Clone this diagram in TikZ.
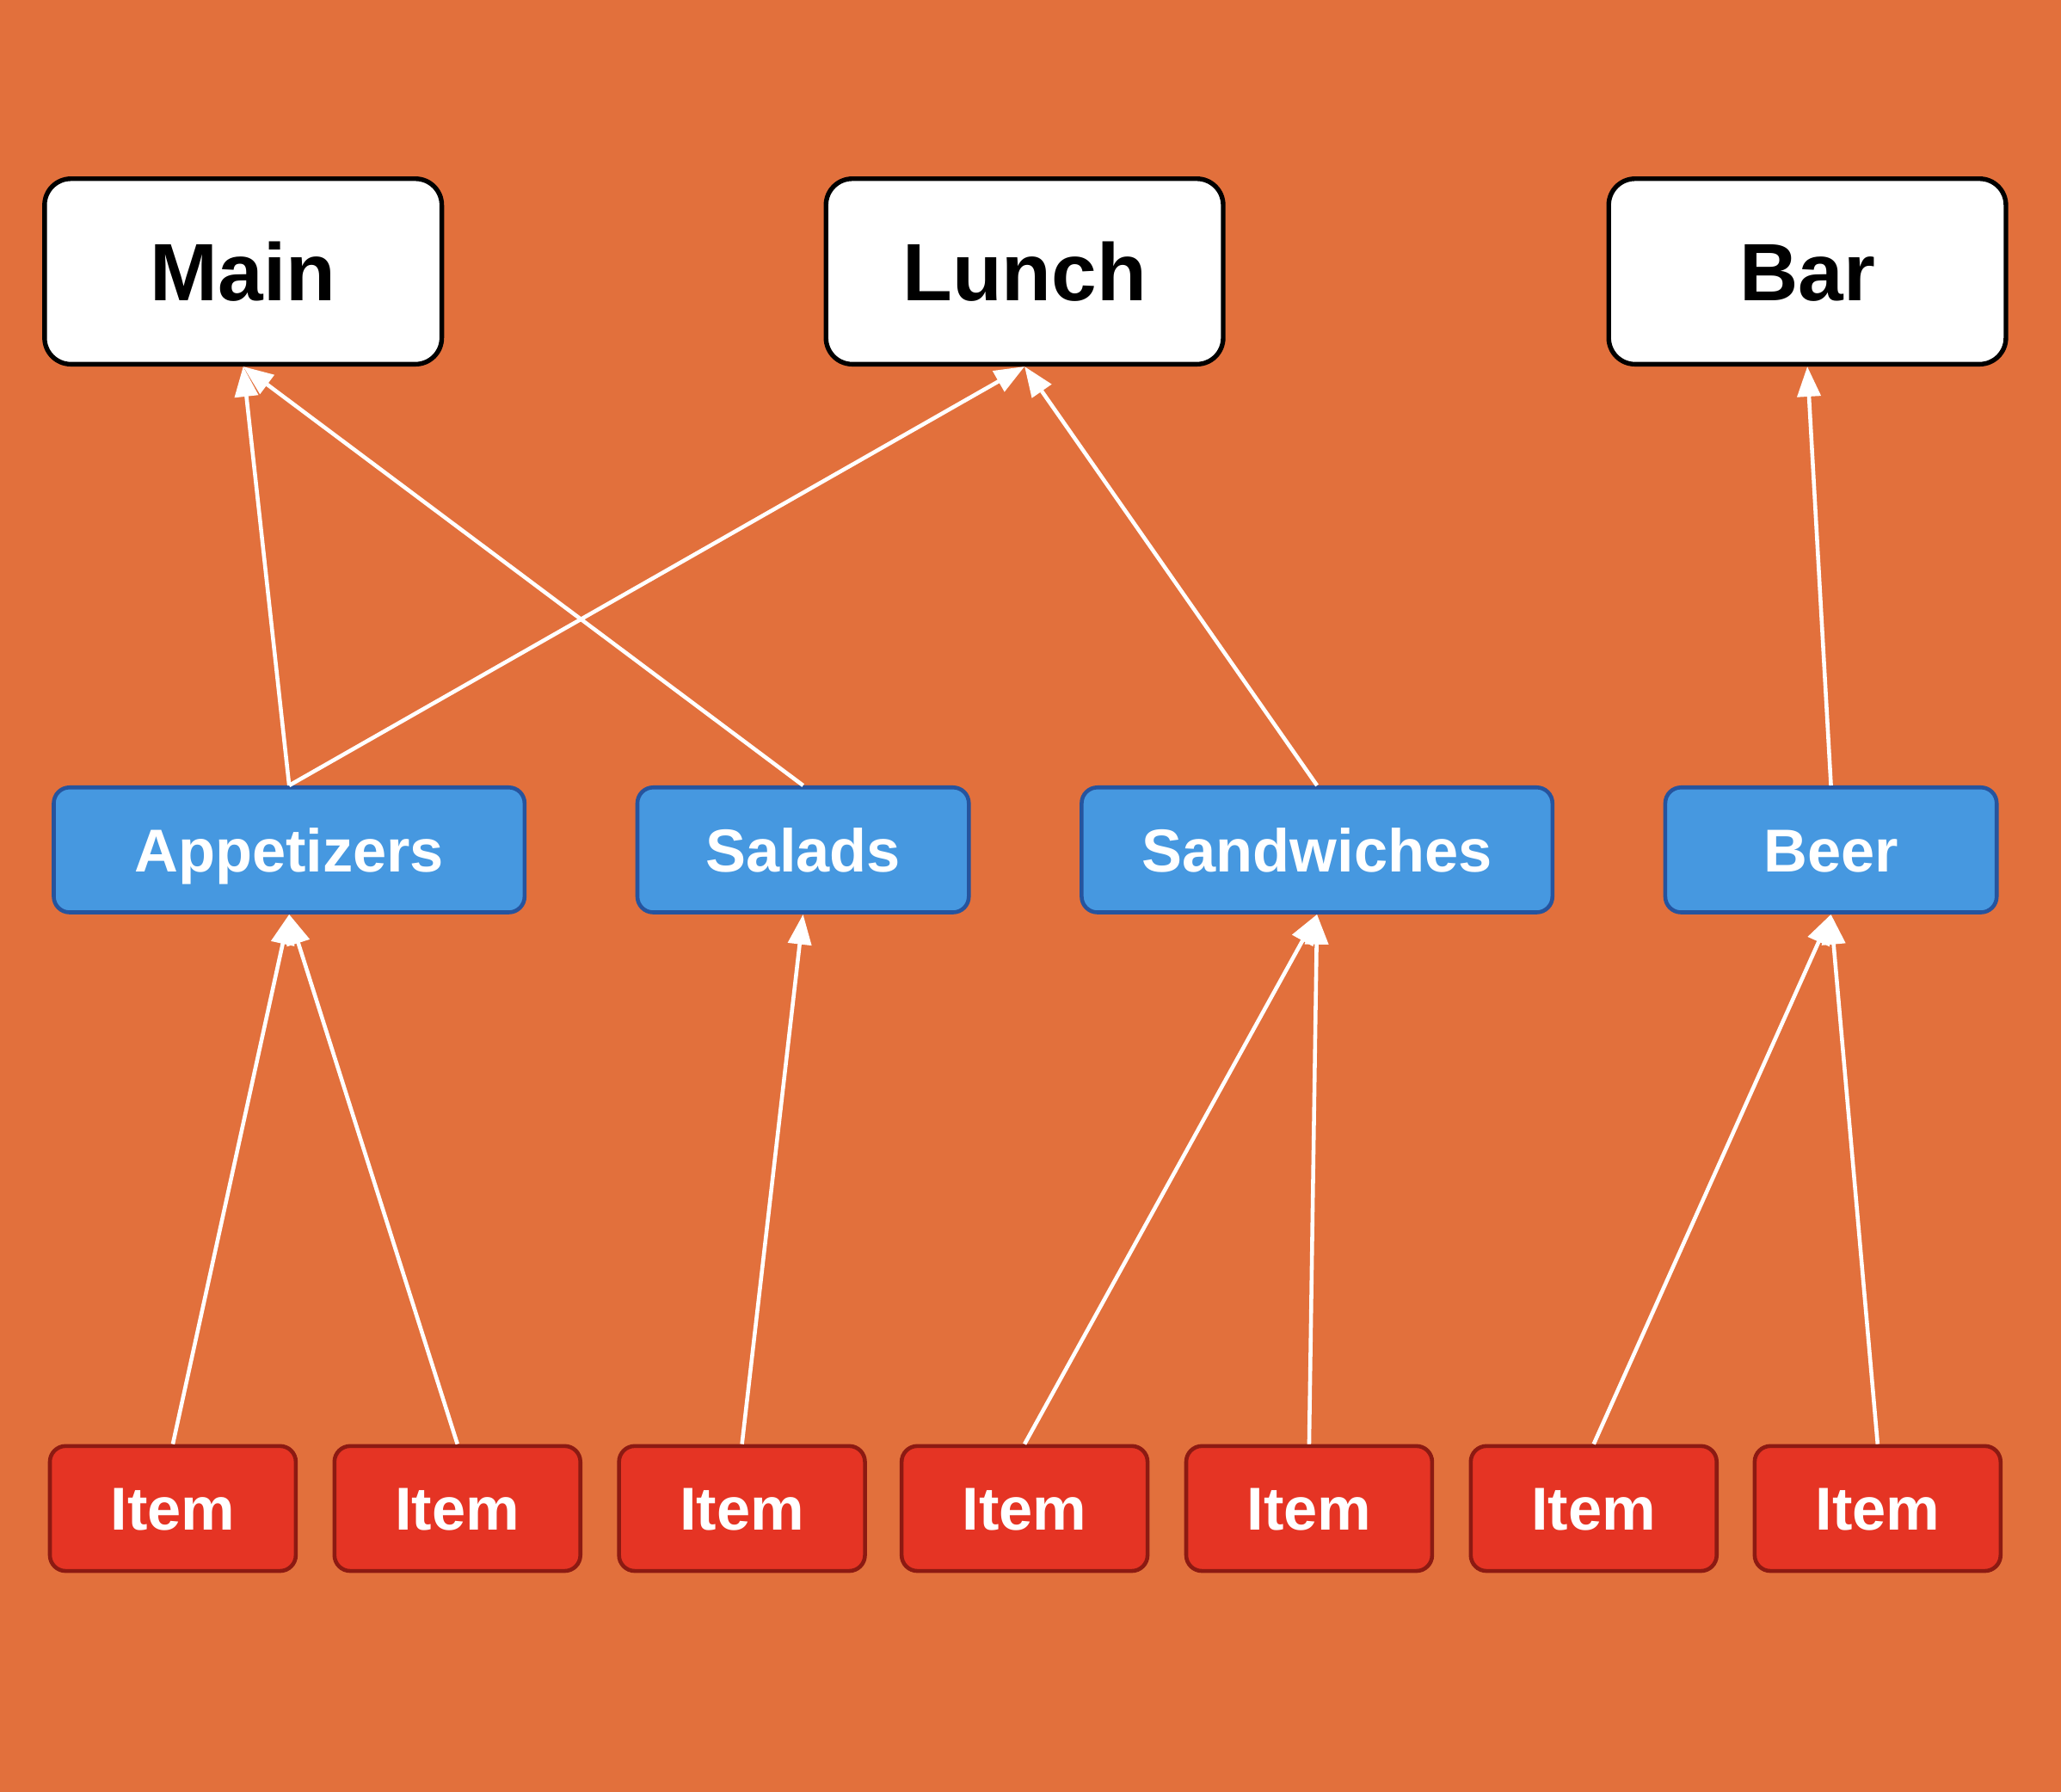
\documentclass[tikz,border=0pt]{standalone}
\usepackage{fontspec}
\setmainfont{Liberation Sans}
\usetikzlibrary{arrows.meta}

\definecolor{bgorange}{RGB}{226,112,60}
\definecolor{catblue}{RGB}{70,152,224}
\definecolor{catblueline}{RGB}{38,84,158}
\definecolor{itemred}{RGB}{229,52,36}
\definecolor{itemredline}{RGB}{140,26,18}

\begin{document}
\begin{tikzpicture}[
    x=0.01cm, y=-0.01cm,
    menubox/.style={rectangle, draw=black, line width=1pt, fill=white, rounded corners=0.2cm, minimum width=3.02cm, minimum height=1.41cm, inner sep=0pt, text height=12.6pt, text depth=0pt, font=\fontsize{17.6}{20}\selectfont\bfseries},
    catbox/.style={rectangle, draw=catblueline, line width=0.85pt, fill=catblue, rounded corners=0.12cm, minimum height=0.95cm, inner sep=0pt, text height=9.4pt, text depth=0pt, text=white, font=\fontsize{13.1}{15}\selectfont\bfseries},
    itembox/.style={rectangle, draw=itemredline, line width=0.85pt, fill=itemred, rounded corners=0.12cm, minimum width=1.87cm, minimum height=0.95cm, inner sep=0pt, text height=9.4pt, text depth=0pt, text=white, font=\fontsize{13.1}{15}\selectfont\bfseries},
    arrow/.style={-{Triangle[length=6.5pt, width=5pt]}, draw=white, fill=white, line width=0.85pt}
]

% background
\fill[bgorange] (0,0) rectangle (1568,1363);

% menus
\node[menubox] (main) at (185,206.5) {Main};
\node[menubox] (lunch) at (779.5,206.5) {Lunch};
\node[menubox] (bar) at (1375,206.5) {Bar};

% categories
\node[catbox, minimum width=3.58cm] (appetizers) at (220,646.5) {Appetizers};
\node[catbox, minimum width=2.52cm] (salads) at (611,646.5) {Salads};
\node[catbox, minimum width=3.58cm] (sandwiches) at (1002,646.5) {Sandwiches};
\node[catbox, minimum width=2.52cm] (beer) at (1393,646.5) {Beer};

% items
\node[itembox] (item1) at (131.5,1147.5) {Item};
\node[itembox] (item2) at (348,1147.5) {Item};
\node[itembox] (item3) at (564.5,1147.5) {Item};
\node[itembox] (item4) at (779.5,1147.5) {Item};
\node[itembox] (item5) at (996,1147.5) {Item};
\node[itembox] (item6) at (1212.5,1147.5) {Item};
\node[itembox] (item7) at (1428.5,1147.5) {Item};

% categories to menus
\draw[arrow] (appetizers.north) -- (main.south);
\draw[arrow] (salads.north) -- (main.south);
\draw[arrow] (appetizers.north) -- (lunch.south);
\draw[arrow] (sandwiches.north) -- (lunch.south);
\draw[arrow] (beer.north) -- (bar.south);

% items to categories
\draw[arrow] (item1.north) -- (appetizers.south);
\draw[arrow] (item2.north) -- (appetizers.south);
\draw[arrow] (item3.north) -- (salads.south);
\draw[arrow] (item4.north) -- (sandwiches.south);
\draw[arrow] (item5.north) -- (sandwiches.south);
\draw[arrow] (item6.north) -- (beer.south);
\draw[arrow] (item7.north) -- (beer.south);
\end{tikzpicture}
\end{document}
